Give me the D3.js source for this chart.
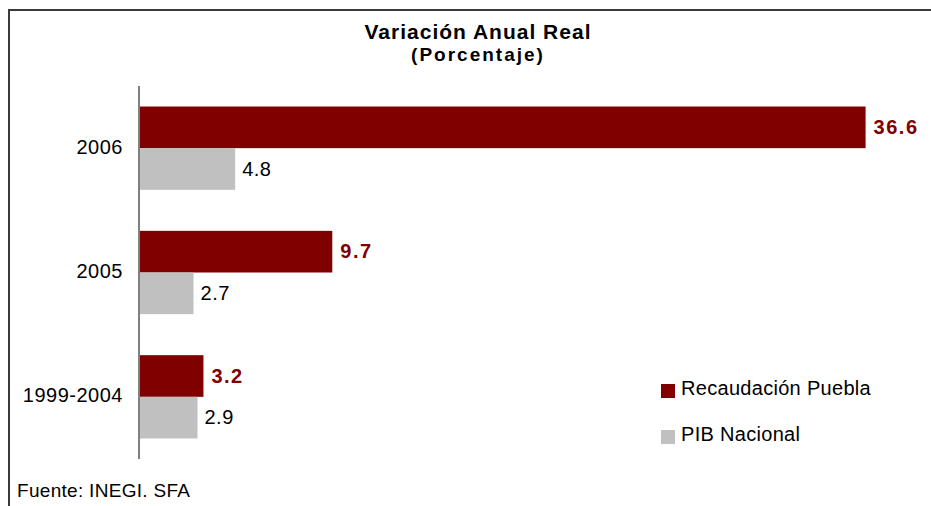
<!DOCTYPE html>
<html>
<head>
<meta charset="utf-8">
<script src="https://cdn.jsdelivr.net/npm/d3@7"></script>
<style>
  body { margin: 0; background: #fff; }
  svg { display: block; font-family: "Liberation Sans", Arial, sans-serif; }
</style>
</head>
<body>
<script>
const categories = ['2006', '2005', '1999-2004']
const recaudacion = [36.6, 9.7, 3.2]
const pib = [4.8, 2.7, 2.9]
const seriesNames = ['Recaudación Puebla', 'PIB Nacional']
const colors = ['#800000', '#c0c0c0']

let width = 931
let height = 506

const svg = d3.select('body')
  .append('svg')
  .attr('width', width)
  .attr('height', height)

// outer frame (cut off at right and bottom)
svg.append('path')
  .attr('d', `M9,${height + 2} L9,10 L${width + 2},10`)
  .attr('fill', 'none')
  .attr('stroke', '#3a3a3a')
  .attr('stroke-width', 2)

// title
svg.append('text')
  .attr('x', 478).attr('y', 39)
  .attr('text-anchor', 'middle')
  .style('font-weight', 'bold').style('font-size', '21px')
  .style('letter-spacing', '1px')
  .text('Variación Anual Real')

svg.append('text')
  .attr('x', 478).attr('y', 61)
  .attr('text-anchor', 'middle')
  .style('font-weight', 'bold').style('font-size', '19px')
  .style('letter-spacing', '2px')
  .text('(Porcentaje)')

const x = d3.scaleLinear()
  .domain([0, 40])
  .range([140, 933])

const y = d3.scaleBand()
  .domain(categories)
  .range([86, 459])
  .paddingInner(0.33)
  .paddingOuter(0.165)

const sub = d3.scaleBand()
  .domain([0, 1])
  .range([0, y.bandwidth()])

const rows = categories.map((c, i) => ({ cat: c, vals: [recaudacion[i], pib[i]] }))

const groups = svg.selectAll('.grp')
  .data(rows)
  .join('g')
  .attr('class', 'grp')
  .attr('transform', d => `translate(0,${y(d.cat)})`)

groups.selectAll('rect')
  .data(d => d.vals)
  .join('rect')
  .attr('x', x(0))
  .attr('y', (d, i) => sub(i))
  .attr('width', d => x(d) - x(0))
  .attr('height', sub.bandwidth())
  .style('fill', (d, i) => colors[i])

// value labels
groups.selectAll('.val')
  .data(d => d.vals)
  .join('text')
  .attr('class', 'val')
  .attr('x', (d, i) => x(d) + (i == 0 ? 8 : 7))
  .attr('y', (d, i) => sub(i) + sub.bandwidth() / 2)
  .attr('dy', '0.33em')
  .style('font-size', '20px')
  .style('font-weight', (d, i) => i == 0 ? 'bold' : 'normal')
  .style('letter-spacing', (d, i) => i == 0 ? '1.5px' : '0.5px')
  .style('fill', (d, i) => i == 0 ? '#800000' : '#000')
  .text(d => d.toFixed(1))

// category axis
const yAxis = svg.append('g')
  .attr('transform', 'translate(139,0)')
  .call(d3.axisLeft(y).tickSize(0).tickPadding(16))

yAxis.select('.domain').attr('stroke', '#000').attr('d', 'M0,86V459')
yAxis.selectAll('text')
  .attr('dy', '0.28em')
  .style('font-size', '20px')
  .style('letter-spacing', '0.5px')
  .style('font-family', '"Liberation Sans", Arial, sans-serif')
  .attr('fill', '#000')

// legend
const legend = svg.selectAll('.legend-item')
  .data(seriesNames)
  .join('g')
  .attr('class', 'legend-item')
  .attr('transform', (d, i) => `translate(661,${384 + i * 46})`)

legend.append('rect')
  .attr('width', 14).attr('height', 14)
  .style('fill', (d, i) => colors[i])

legend.append('text')
  .attr('x', 20).attr('y', 11)
  .style('font-size', '20px')
  .style('letter-spacing', '0.3px')
  .text(d => d)

svg.append('text')
  .attr('x', 17).attr('y', 497)
  .style('font-size', '19px')
  .style('letter-spacing', '0.3px')
  .text('Fuente: INEGI. SFA')
</script>
</body>
</html>
